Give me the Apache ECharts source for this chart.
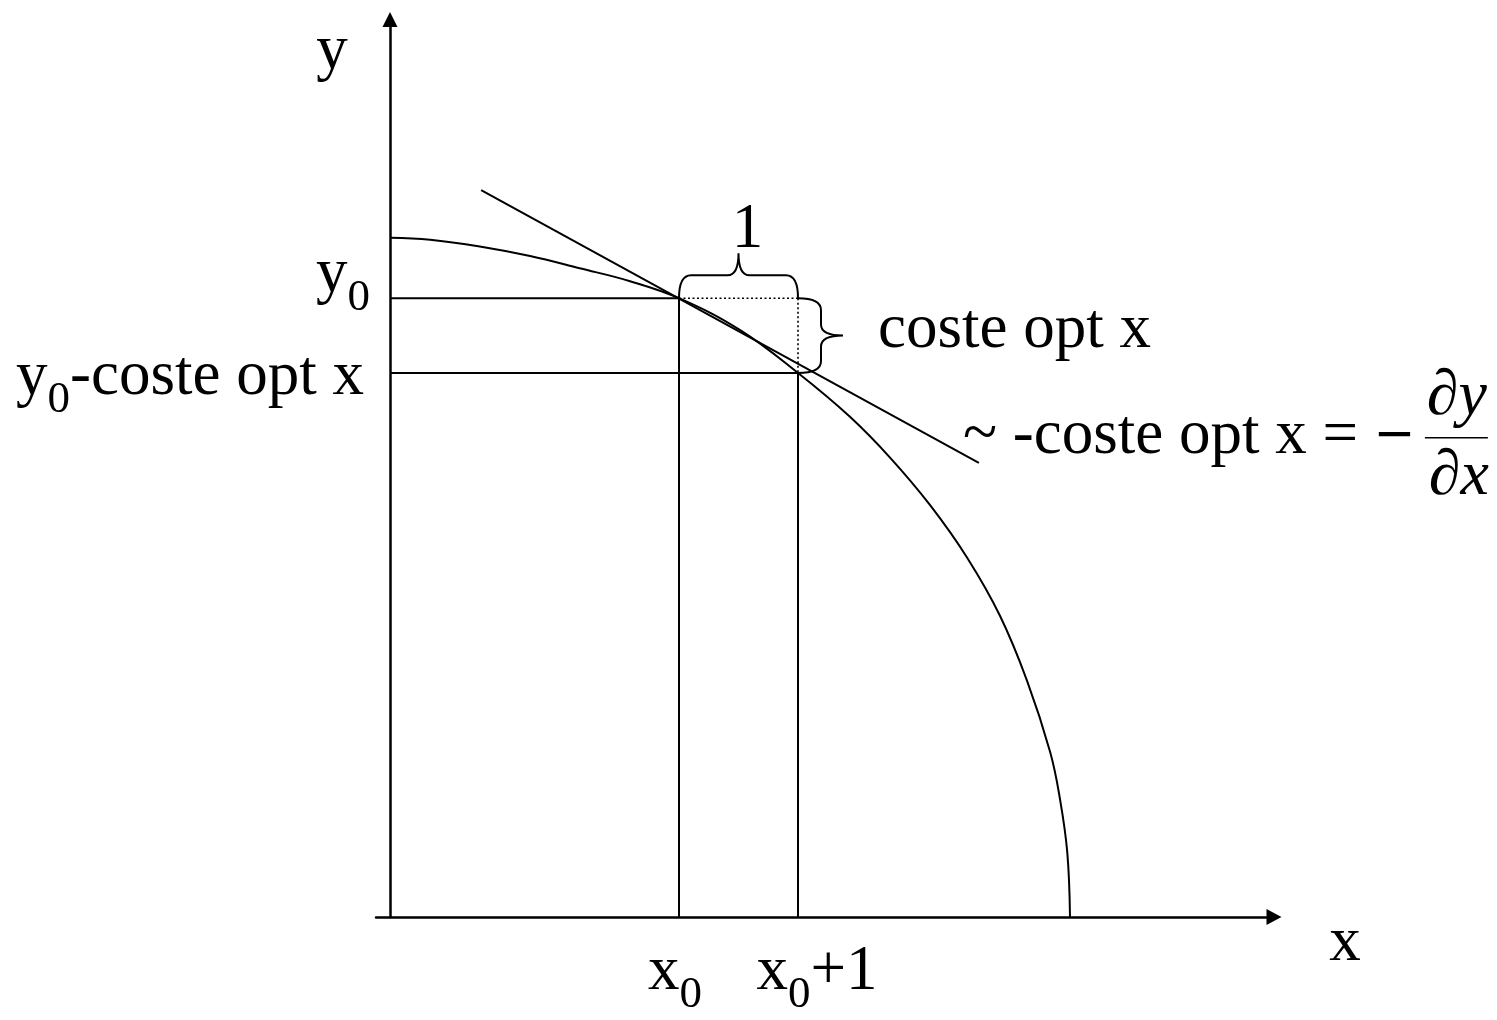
<!DOCTYPE html>
<html>
<head>
<meta charset="utf-8">
<script src="https://cdn.jsdelivr.net/npm/echarts@6/dist/echarts.min.js"></script>
<style>
html, body { margin: 0; padding: 0; background: #fff; }
#chart { width: 1497px; height: 1020px; }
</style>
</head>
<body>
<div id="chart"></div>
<script>
// frontier, it meets both axes at about 10
const frontierX = [0, 0.59, 1.32, 2.06, 2.79, 3.53, 4.25, 5.15, 6.0, 6.76, 7.35, 7.94, 8.49, 8.97, 9.37, 9.71, 9.85, 9.96, 10.0];
const frontierY = [9.99, 9.96, 9.86, 9.72, 9.54, 9.35, 9.10, 8.63, 8.0, 7.36, 6.76, 6.06, 5.28, 4.43, 3.47, 2.42, 1.75, 0.95, 0];

// x0, x0+1, y0, y0-coste opt x
const xMarks = [4.25, 6.0];
const yMarks = [9.10, 8.0];

// the straight line touching the curve at (x0, y0)
const tangentX = [1.34, 8.66];
const tangentY = [10.69, 6.68];

const axisNames = ['x', 'y'];
const labelTexts = [
  '{m|1}',
  '{m|coste opt x}',
  '{m|y}{s|0}',
  '{m|y}{s|0}{m|-coste opt x}',
  '{m|~ -coste opt x = }{b|\u2212}',
  '{i|\u2202y}',
  '{i|\u2202x}',
  '{m|x}{s|0}',
  '{m|x}{s|0}{m|+1}'
];

const xMin = -0.206, xMax = 13.0, yMin = 0, yMax = 13.2;
const FONT = '"Liberation Serif", "Times New Roman", serif';

const x0 = xMarks[0], x1 = xMarks[1], y0 = yMarks[0], y1 = yMarks[1];

function seg(a, b) { return [a, b]; }

const solidSegs = [
  seg([0, y0], [x0, y0]),
  seg([0, y1], [x1, y1]),
  seg([x0, 0], [x0, y0]),
  seg([x1, 0], [x1, y1])
];
const dottedSegs = [
  seg([x0, y0], [x1, y0]),
  seg([x1, y0], [x1, y1])
];

const rich = {
  m: { fontFamily: FONT, fontSize: 63, lineHeight: 64, color: '#000' },
  s: { fontFamily: FONT, fontSize: 45, lineHeight: 17, height: 17, verticalAlign: 'bottom', color: '#000' },
  i: { fontFamily: FONT, fontSize: 64, lineHeight: 64, fontStyle: 'italic', color: '#000' },
  b: { fontFamily: '"DejaVu Sans", sans-serif', fontSize: 50, lineHeight: 64, color: '#000' }
};

// where each text sits: data anchor + pixel nudge
const notes = [
  { text: '{m|' + axisNames[1] + '}', at: [0, yMax], dx: -58, dy: 32, align: 'center' },
  { text: '{m|' + axisNames[0] + '}', at: [xMax, 0], dx: 71, dy: 26, align: 'center' },
  { text: labelTexts[0], at: [(x0 + x1) / 2, y0], dx: 9, dy: -68, align: 'center' },
  { text: labelTexts[1], at: [x1, (y0 + y1) / 2], dx: 80, dy: -5, align: 'left' },
  { text: labelTexts[2], at: [0, y0], dx: -20, dy: -24, align: 'right' },
  { text: labelTexts[3], at: [0, y1], dx: -26, dy: 4, align: 'right' },
  { text: labelTexts[4], at: [tangentX[1], tangentY[1]], dx: -16, dy: -26, align: 'left' },
  { text: labelTexts[5], at: [tangentX[1], tangentY[1]], dx: 478, dy: -66, align: 'center' },
  { text: labelTexts[6], at: [tangentX[1], tangentY[1]], dx: 480, dy: 14, align: 'center' },
  { text: labelTexts[7], at: [x0, 0], dx: -4, dy: 55, align: 'center' },
  { text: labelTexts[8], at: [x1, 0], dx: 19, dy: 55, align: 'center' }
];

const chart = echarts.init(document.getElementById('chart'));

const lineSeries = (data, type, width) => ({
  type: 'line',
  data: data,
  showSymbol: false,
  symbol: 'none',
  silent: true,
  lineStyle: { color: '#000', width: width, type: type },
  z: 3
});

const series = [];
series.push({
  type: 'line',
  data: frontierX.map((x, i) => [x, frontierY[i]]),
  smooth: 0.4,
  symbol: 'none',
  silent: true,
  lineStyle: { color: '#000', width: 2 },
  z: 3
});
series.push(lineSeries([[tangentX[0], tangentY[0]], [tangentX[1], tangentY[1]]], 'solid', 2));
solidSegs.forEach(s => series.push(lineSeries(s, 'solid', 2)));
dottedSegs.forEach(s => series.push(lineSeries(s, [2, 2.5], 1.6)));

// curly braces over the step along x and the drop in y
series.push({
  type: 'custom',
  coordinateSystem: 'cartesian2d',
  silent: true,
  data: [[x0, y0, x1, y0], [x1, y0, x1, y1]],
  renderItem: function (params, api) {
    const a = api.coord([api.value(0), api.value(1)]);
    const b = api.coord([api.value(2), api.value(3)]);
    const len = Math.hypot(b[0] - a[0], b[1] - a[1]);
    const t = [(b[0] - a[0]) / len, (b[1] - a[1]) / len];
    const n = [t[1], -t[0]];
    const d1 = 23, d2 = 45, r = 12, rt = 11;
    const m = [(a[0] + b[0]) / 2, (a[1] + b[1]) / 2];
    const p = (base, dn, dt) => (base[0] + n[0] * dn + t[0] * dt).toFixed(2) + ' ' + (base[1] + n[1] * dn + t[1] * dt).toFixed(2);
    const d = 'M ' + p(a, 0, 0) +
      ' Q ' + p(a, d1, 0) + ' ' + p(a, d1, r) +
      ' L ' + p(m, d1, -rt) +
      ' Q ' + p(m, d1, 0) + ' ' + p(m, d2, 0) +
      ' Q ' + p(m, d1, 0) + ' ' + p(m, d1, rt) +
      ' L ' + p(b, d1, -r) +
      ' Q ' + p(b, d1, 0) + ' ' + p(b, 0, 0);
    return {
      type: 'path',
      shape: { pathData: d },
      style: { fill: 'none', stroke: '#000', lineWidth: 2 }
    };
  },
  z: 4
});

// texts, plus the bar of the fraction
series.push({
  type: 'custom',
  coordinateSystem: 'cartesian2d',
  silent: true,
  clip: false,
  data: notes.map((nt, i) => [nt.at[0], nt.at[1], i]),
  renderItem: function (params, api) {
    const nt = notes[api.value(2)];
    const c = api.coord([api.value(0), api.value(1)]);
    const children = [{
      type: 'text',
      x: c[0] + nt.dx,
      y: c[1] + nt.dy,
      style: {
        text: nt.text,
        rich: rich,
        align: nt.align,
        verticalAlign: 'middle',
        fill: '#000'
      }
    }];
    if (params.dataIndex === 7) {
      children.push({
        type: 'line',
        shape: { x1: c[0] + 446, y1: c[1] - 25, x2: c[0] + 509, y2: c[1] - 25 },
        style: { stroke: '#000', lineWidth: 1.5 }
      });
    }
    return { type: 'group', children: children };
  },
  z: 5
});

chart.setOption({
  animation: false,
  backgroundColor: '#fff',
  grid: { left: 376, top: 19.4, width: 898, height: 897.6, outerBoundsMode: 'none' },
  xAxis: {
    type: 'value',
    min: xMin,
    max: xMax,
    axisLine: { onZero: true, symbol: ['none', 'triangle'], symbolSize: [16, 15], lineStyle: { color: '#000', width: 2.5 } },
    axisTick: { show: false },
    axisLabel: { show: false },
    splitLine: { show: false }
  },
  yAxis: {
    type: 'value',
    min: yMin,
    max: yMax,
    axisLine: { show: true, onZero: true, symbol: ['none', 'triangle'], symbolSize: [15, 15], lineStyle: { color: '#000', width: 2.5 } },
    axisTick: { show: false },
    axisLabel: { show: false },
    splitLine: { show: false }
  },
  series: series
});
</script>
</body>
</html>
